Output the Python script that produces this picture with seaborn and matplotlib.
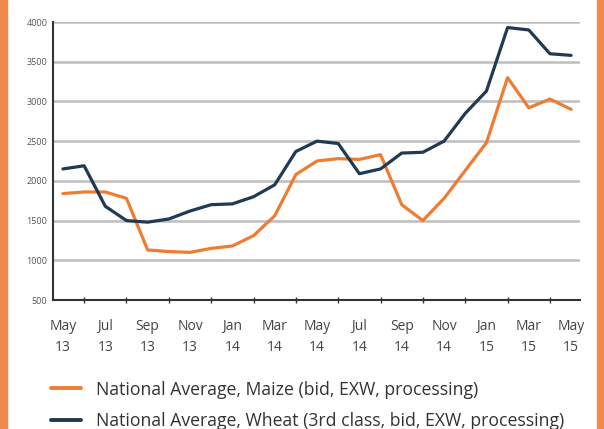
import matplotlib
matplotlib.use("Agg")
import matplotlib.pyplot as plt
import seaborn as sns
import pandas as pd
from matplotlib.lines import Line2D
from matplotlib.patches import Rectangle

# <--- data --->
months = list(range(25))  # May 13 .. May 15, monthly
tick_labels = ["May\n13", "Jul\n13", "Sep\n13", "Nov\n13", "Jan\n14", "Mar\n14", "May\n14",
               "Jul\n14", "Sep\n14", "Nov\n14", "Jan\n15", "Mar\n15", "May\n15"]
maize = [1840, 1860, 1860, 1780, 1130, 1110, 1100, 1150, 1180, 1310, 1560, 2080, 2250,
         2280, 2270, 2330, 1700, 1500, 1780, 2130, 2480, 3300, 2920, 3030, 2900]
wheat = [2150, 2190, 1680, 1500, 1480, 1520, 1620, 1700, 1710, 1800, 1950, 2370, 2500,
         2470, 2090, 2150, 2350, 2360, 2500, 2850, 3130, 3930, 3900, 3600, 3580]
maize_label = "National Average, Maize (bid, EXW, processing)"
wheat_label = "National Average, Wheat (3rd class, bid, EXW, processing)"

orange = "#ee7d33"
navy = "#1f3a52"

df = pd.DataFrame({
    "month": months * 2,
    "price": maize + wheat,
    "series": [maize_label] * len(maize) + [wheat_label] * len(wheat),
})

sns.set_style("white")
plt.rcParams["font.family"] = ["Open Sans", "DejaVu Sans"]

fig = plt.figure(figsize=(6.04, 4.29), dpi=100)
ax = fig.add_axes([53 / 604, 129 / 429, 527 / 604, 278 / 429])

# gridlines first so lines sit on top
for v in range(500, 4001, 500):
    ax.axhline(v, color="#bdbdbd", lw=1.8, zorder=0)

sns.lineplot(data=df, x="month", y="price", hue="series",
             palette={maize_label: orange, wheat_label: navy},
             lw=2.3, ax=ax, legend=False, zorder=3)

ax.set_xlim(-0.47, 24.42)
ax.set_ylim(500, 4000)
ax.set_xlabel("")
ax.set_ylabel("")
ax.set_xticks(months[::2])
ax.set_xticklabels(tick_labels, fontsize=10, color="#444444", linespacing=1.6)
ax.set_xticks(months[1::2], minor=True)
ax.set_yticks(range(500, 4001, 500))
ax.set_yticklabels([str(v) for v in range(500, 4001, 500)], fontsize=6.5, color="#555555")
ax.tick_params(axis="x", which="major", direction="inout", length=7, width=1.2,
               color="#333333", pad=10)
ax.tick_params(axis="x", which="minor", direction="inout", length=5, width=1.0,
               color="#333333", bottom=True)
ax.tick_params(axis="y", length=0, pad=4)
for s in ["top", "right"]:
    ax.spines[s].set_visible(False)
for s in ["left", "bottom"]:
    ax.spines[s].set_color("#333333")
    ax.spines[s].set_linewidth(1.5)

# legend below the plot
handles = [Line2D([0], [0], color=orange, lw=2.8), Line2D([0], [0], color=navy, lw=2.8)]
fig.legend(handles, [maize_label, wheat_label], loc="upper left",
           bbox_to_anchor=(47 / 604, 1 - 377 / 429), frameon=False, fontsize=12.7,
           handlelength=1.7, handletextpad=0.85, labelspacing=0.75,
           borderaxespad=0, borderpad=0.2, labelcolor="#333333")

# orange side borders
fig.patches.append(Rectangle((0, 0), 7 / 604, 1, transform=fig.transFigure,
                             color="#f08a4b", zorder=0))
fig.patches.append(Rectangle((597 / 604, 0), 7 / 604, 1, transform=fig.transFigure,
                             color="#f08a4b", zorder=0))

fig.savefig("out.png", dpi=100)
